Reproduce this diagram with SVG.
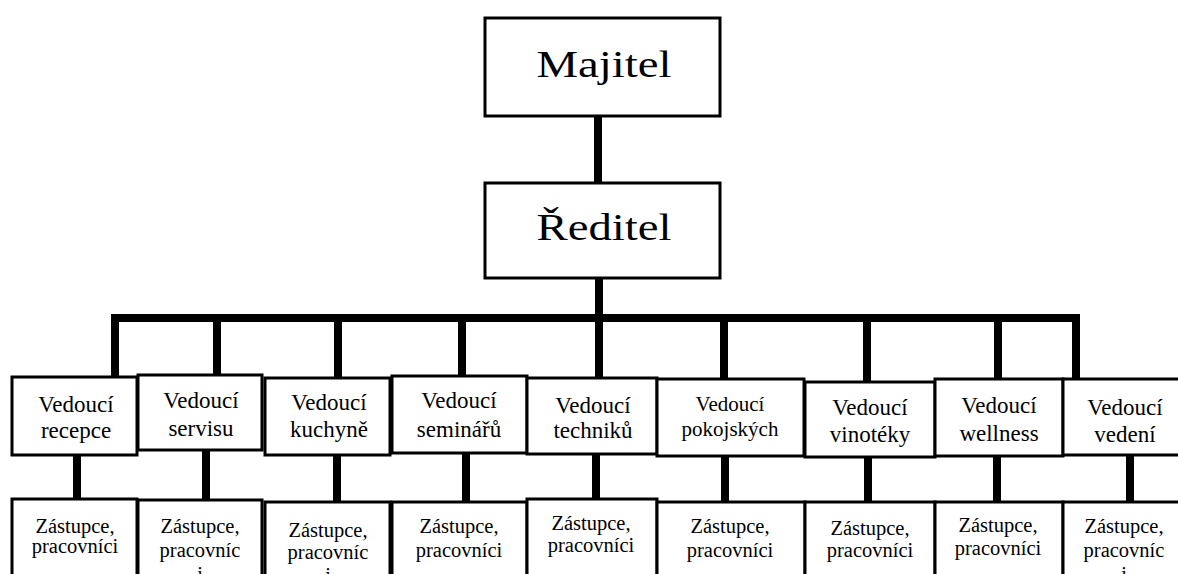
<svg xmlns="http://www.w3.org/2000/svg" width="1178" height="574" viewBox="0 0 1178 574">
<style>
.box{fill:#fff;stroke:#000;stroke-width:3}
.con{stroke:#000;stroke-width:8;fill:none;stroke-linecap:butt}
text{font-family:'Liberation Serif',serif;fill:#000;text-anchor:middle}
.big{font-size:38px}
.v{font-size:23px}
.vs{font-size:21px}
.z{font-size:20.5px}
</style>
<rect width="1178" height="574" fill="#fff"/>
<g id="connectors">
<line class="con" x1="598" y1="116" x2="598" y2="183"/>
<line class="con" x1="599" y1="278" x2="599" y2="318"/>
<line class="con" x1="111" y1="318" x2="1080" y2="318"/>
<line class="con" x1="115" y1="318" x2="115" y2="377"/>
<line class="con" x1="217" y1="318" x2="217" y2="375"/>
<line class="con" x1="338" y1="318" x2="338" y2="378"/>
<line class="con" x1="462" y1="318" x2="462" y2="376"/>
<line class="con" x1="599" y1="318" x2="599" y2="378"/>
<line class="con" x1="724" y1="318" x2="724" y2="379"/>
<line class="con" x1="867" y1="318" x2="867" y2="382"/>
<line class="con" x1="998" y1="318" x2="998" y2="379"/>
<line class="con" x1="1076" y1="318" x2="1076" y2="379"/>
<line class="con" x1="77" y1="455" x2="77" y2="499"/>
<line class="con" x1="206" y1="450" x2="206" y2="500"/>
<line class="con" x1="337" y1="455" x2="337" y2="502"/>
<line class="con" x1="466" y1="453" x2="466" y2="502"/>
<line class="con" x1="596" y1="454" x2="596" y2="499"/>
<line class="con" x1="725" y1="456" x2="725" y2="502"/>
<line class="con" x1="868" y1="457" x2="868" y2="502"/>
<line class="con" x1="997" y1="456" x2="997" y2="502"/>
<line class="con" x1="1130" y1="455" x2="1130" y2="502"/>
</g>
<g id="majitel"><rect class="box" x="485" y="18" width="235" height="98"/><text class="big" x="604" y="77" textLength="135" lengthAdjust="spacingAndGlyphs">Majitel</text></g>
<g id="reditel"><rect class="box" x="485" y="183" width="235" height="95"/><text class="big" x="604" y="240" textLength="135" lengthAdjust="spacingAndGlyphs">Ředitel</text></g>

<g id="v1"><rect class="box" x="12" y="377" width="125" height="78"/><text class="v" x="76" y="412">Vedoucí</text><text class="v" x="76" y="438">recepce</text></g>
<g id="v2"><rect class="box" x="138" y="375" width="124" height="75"/><text class="v" x="201" y="408">Vedoucí</text><text class="v" x="201" y="436">servisu</text></g>
<g id="v3"><rect class="box" x="265" y="378" width="125" height="77"/><text class="v" x="329" y="410">Vedoucí</text><text class="v" x="329" y="437">kuchyně</text></g>
<g id="v4"><rect class="box" x="392" y="376" width="135" height="77"/><text class="v" x="459" y="408">Vedoucí</text><text class="v" x="459" y="437">seminářů</text></g>
<g id="v5"><rect class="box" x="527" y="378" width="130" height="76"/><text class="v" x="593" y="413">Vedoucí</text><text class="v" x="593" y="438">techniků</text></g>
<g id="v6"><rect class="box" x="657" y="379" width="147" height="77"/><text class="vs" x="730" y="411">Vedoucí</text><text class="vs" x="730" y="436">pokojských</text></g>
<g id="v7"><rect class="box" x="805" y="382" width="130" height="75"/><text class="v" x="870" y="415">Vedoucí</text><text class="v" x="870" y="442">vinotéky</text></g>
<g id="v8"><rect class="box" x="935" y="379" width="128" height="77"/><text class="v" x="999" y="413">Vedoucí</text><text class="v" x="999" y="441">wellness</text></g>
<g id="v9"><rect class="box" x="1063" y="379" width="130" height="76"/><text class="v" x="1125" y="415">Vedoucí</text><text class="v" x="1125" y="442">vedení</text></g>

<g id="z1"><rect class="box" x="12" y="499" width="125" height="90"/><text class="z" x="75" y="533">Zástupce,</text><text class="z" x="75" y="553">pracovníci</text></g>
<g id="z2"><rect class="box" x="138" y="500" width="124" height="90"/><text class="z" x="200" y="533">Zástupce,</text><text class="z" x="200" y="557">pracovníc</text><text class="z" x="200" y="581">i</text></g>
<g id="z3"><rect class="box" x="265" y="502" width="125" height="90"/><text class="z" x="328" y="537">Zástupce,</text><text class="z" x="328" y="559">pracovníc</text><text class="z" x="328" y="582">i</text></g>
<g id="z4"><rect class="box" x="392" y="502" width="135" height="90"/><text class="z" x="459" y="533">Zástupce,</text><text class="z" x="459" y="557">pracovníci</text></g>
<g id="z5"><rect class="box" x="527" y="499" width="130" height="90"/><text class="z" x="591" y="530">Zástupce,</text><text class="z" x="591" y="552">pracovníci</text></g>
<g id="z6"><rect class="box" x="657" y="502" width="148" height="90"/><text class="z" x="730" y="533">Zástupce,</text><text class="z" x="730" y="557">pracovníci</text></g>
<g id="z7"><rect class="box" x="805" y="502" width="130" height="90"/><text class="z" x="870" y="535">Zástupce,</text><text class="z" x="870" y="557">pracovníci</text></g>
<g id="z8"><rect class="box" x="935" y="502" width="128" height="90"/><text class="z" x="998" y="532">Zástupce,</text><text class="z" x="998" y="555">pracovníci</text></g>
<g id="z9"><rect class="box" x="1063" y="502" width="130" height="90"/><text class="z" x="1124" y="533">Zástupce,</text><text class="z" x="1124" y="557">pracovníc</text><text class="z" x="1124" y="581">i</text></g>
</svg>
